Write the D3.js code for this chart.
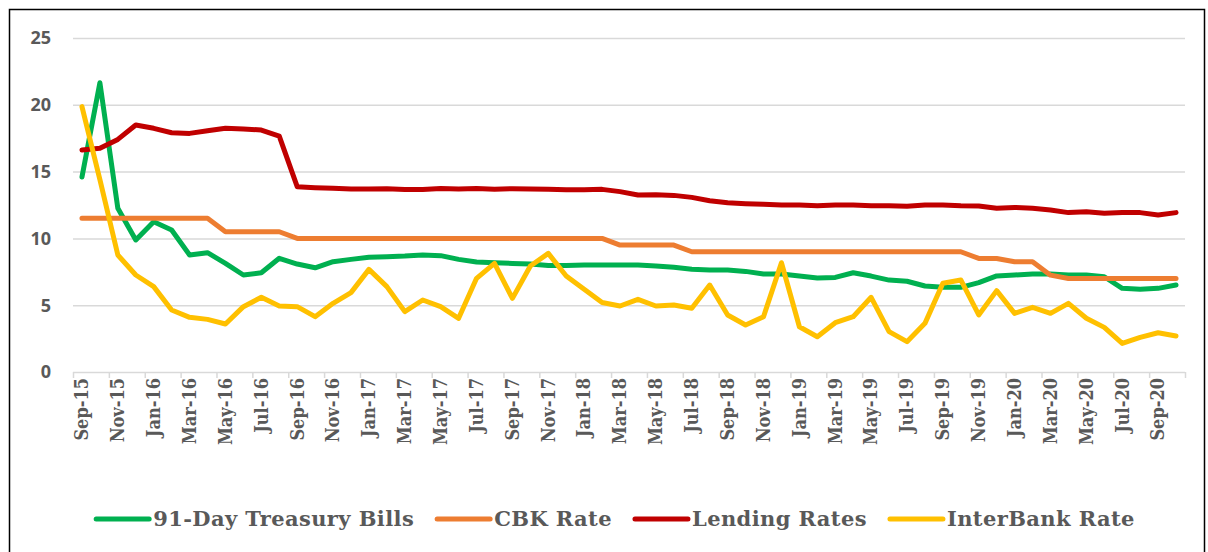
<!DOCTYPE html>
<html>
<head>
<meta charset="utf-8">
<script src="https://cdn.jsdelivr.net/npm/d3@7"></script>
<style>
  body { margin: 0; background: #fff; }
  svg { display: block; }
  .ylab text { font-family: "Open Sans", "DejaVu Sans", sans-serif; font-weight: 700; font-size: 18px; fill: #595959; }
  .xlab text { font-family: "DejaVu Serif Condensed", "DejaVu Serif", serif; font-stretch: condensed; font-weight: 700; font-size: 18px; fill: #595959; }
  .legend text { font-family: "DejaVu Serif", serif; font-weight: 700; font-size: 21px; letter-spacing: 0.4px; fill: #595959; }
</style>
</head>
<body>
<svg width="1208" height="552"></svg>
<script>
(function () {

  // months Sep-15 .. Oct-20
  const months = [
    "Sep-15","Oct-15","Nov-15","Dec-15","Jan-16","Feb-16","Mar-16","Apr-16","May-16","Jun-16","Jul-16","Aug-16",
    "Sep-16","Oct-16","Nov-16","Dec-16","Jan-17","Feb-17","Mar-17","Apr-17","May-17","Jun-17","Jul-17","Aug-17",
    "Sep-17","Oct-17","Nov-17","Dec-17","Jan-18","Feb-18","Mar-18","Apr-18","May-18","Jun-18","Jul-18","Aug-18",
    "Sep-18","Oct-18","Nov-18","Dec-18","Jan-19","Feb-19","Mar-19","Apr-19","May-19","Jun-19","Jul-19","Aug-19",
    "Sep-19","Oct-19","Nov-19","Dec-19","Jan-20","Feb-20","Mar-20","Apr-20","May-20","Jun-20","Jul-20","Aug-20",
    "Sep-20","Oct-20"
  ];

  const tbill = [14.6, 21.65, 12.25, 9.88, 11.25, 10.63, 8.76, 8.93, 8.13, 7.26, 7.43, 8.51,
    8.08, 7.8, 8.26, 8.43, 8.59, 8.63, 8.68, 8.76, 8.71, 8.43, 8.23, 8.18,
    8.13, 8.08, 7.98, 7.98, 8.0, 8.0, 8.0, 8.0, 7.94, 7.84, 7.69, 7.64,
    7.64, 7.53, 7.33, 7.33, 7.18, 7.03, 7.08, 7.43, 7.18, 6.88, 6.79, 6.44,
    6.34, 6.34, 6.69, 7.19, 7.26, 7.33, 7.33, 7.26, 7.26, 7.13, 6.26, 6.19,
    6.26, 6.51];

  const cbk = [11.5, 11.5, 11.5, 11.5, 11.5, 11.5, 11.5, 11.5, 10.5, 10.5, 10.5, 10.5,
    10, 10, 10, 10, 10, 10, 10, 10, 10, 10, 10, 10,
    10, 10, 10, 10, 10, 10, 9.5, 9.5, 9.5, 9.5, 9, 9,
    9, 9, 9, 9, 9, 9, 9, 9, 9, 9, 9, 9,
    9, 9, 8.5, 8.5, 8.25, 8.25, 7.25, 7, 7, 7, 7, 7,
    7, 7];

  const lending = [16.62, 16.74, 17.41, 18.49, 18.24, 17.91, 17.86, 18.06, 18.24, 18.19, 18.11, 17.66,
    13.87, 13.8, 13.75, 13.7, 13.7, 13.72, 13.66, 13.66, 13.73, 13.7, 13.73, 13.68,
    13.72, 13.7, 13.68, 13.64, 13.64, 13.67, 13.5, 13.25, 13.27, 13.22, 13.07, 12.82,
    12.67, 12.6, 12.55, 12.5, 12.5, 12.45, 12.5, 12.5, 12.45, 12.45, 12.4, 12.5,
    12.5, 12.45, 12.43, 12.25, 12.32, 12.25, 12.13, 11.93, 12.0, 11.88, 11.93, 11.93,
    11.75, 11.93];

  const interbank = [19.86, 14.4, 8.76, 7.26, 6.39, 4.64, 4.09, 3.94, 3.59, 4.89, 5.59, 4.94,
    4.89, 4.14, 5.14, 5.94, 7.68, 6.39, 4.52, 5.39, 4.89, 4.02, 7.01, 8.13,
    5.51, 7.93, 8.88, 7.19, 6.19, 5.2, 4.94, 5.44, 4.94, 5.02, 4.77, 6.51,
    4.27, 3.52, 4.14, 8.18, 3.39, 2.64, 3.69, 4.14, 5.59, 3.02, 2.27, 3.64,
    6.64, 6.89, 4.27, 6.09, 4.39, 4.84, 4.39, 5.14, 4.02, 3.34, 2.14, 2.59,
    2.94, 2.69];

  const yTicks = [0, 5, 10, 15, 20, 25];

  const series = [
    { name: "91-Day Treasury Bills", values: tbill, color: "#00b050" },
    { name: "CBK Rate", values: cbk, color: "#ed7d31" },
    { name: "Lending Rates", values: lending, color: "#c00000" },
    { name: "InterBank Rate", values: interbank, color: "#ffc000" }
  ];

  const left = 73, right = 1185, top = 38, bottom = 372;

  const svg = d3.select("svg");

  // outer frame
  svg.append("rect")
    .attr("x", 9.5).attr("y", 9.5)
    .attr("width", 1195).attr("height", 560)
    .attr("fill", "none").attr("stroke", "#000").attr("stroke-width", 1.5);

  const xBand = d3.scaleBand().domain(months).range([left, right]).padding(0);
  const x = d3.scalePoint().domain(months).range([left, right]).padding(0.5);
  const y = d3.scaleLinear().domain([0, 25]).range([bottom, top]);

  // gridlines
  svg.append("g")
    .selectAll("line")
    .data(yTicks.filter(d => d > 0))
    .enter()
    .append("line")
    .attr("x1", left).attr("x2", right)
    .attr("y1", d => y(d) + 0.5).attr("y2", d => y(d) + 0.5)
    .attr("stroke", "#d9d9d9").attr("stroke-width", 1.5);

  // y labels
  svg.append("g").classed("ylab", true)
    .selectAll("text")
    .data(yTicks)
    .enter()
    .append("text")
    .attr("x", 51)
    .attr("y", d => y(d))
    .attr("dy", "0.35em")
    .attr("text-anchor", "end")
    .text(d => d);

  // x axis line + boundary ticks every 2 months
  svg.append("line")
    .attr("x1", left).attr("x2", right)
    .attr("y1", bottom + 0.5).attr("y2", bottom + 0.5)
    .attr("stroke", "#d9d9d9").attr("stroke-width", 1.5);

  const tickPos = months.filter((m, i) => i % 2 === 0).map(m => xBand(m)).concat([right]);
  svg.append("g")
    .selectAll("line")
    .data(tickPos)
    .enter()
    .append("line")
    .attr("x1", d => d + 0.5).attr("x2", d => d + 0.5)
    .attr("y1", bottom).attr("y2", bottom + 6)
    .attr("stroke", "#d9d9d9").attr("stroke-width", 1.5);

  // x labels (every other month)
  svg.append("g").classed("xlab", true)
    .selectAll("text")
    .data(months.filter((m, i) => i % 2 === 0))
    .enter()
    .append("text")
    .attr("transform", d => `translate(${x(d)},${bottom + 6}) rotate(-90)`)
    .attr("dy", "0.35em")
    .attr("text-anchor", "end")
    .text(d => d);

  // lines
  const line = d3.line()
    .x((d, i) => x(months[i]))
    .y(d => y(d));

  svg.append("g")
    .selectAll("path")
    .data(series)
    .enter()
    .append("path")
    .attr("d", d => line(d.values))
    .attr("fill", "none")
    .attr("stroke", d => d.color)
    .attr("stroke-width", 5)
    .attr("stroke-linejoin", "round")
    .attr("stroke-linecap", "round");

  // legend, centred under the plot
  const legend = svg.append("g").classed("legend", true);
  const items = legend.selectAll("g")
    .data(series)
    .enter()
    .append("g");

  items.append("line")
    .attr("x1", 2).attr("x2", 55)
    .attr("y1", 519).attr("y2", 519)
    .attr("stroke", d => d.color)
    .attr("stroke-width", 5)
    .attr("stroke-linecap", "round");

  items.append("text")
    .attr("x", 59)
    .attr("y", 526)
    .text(d => d.name);

  const widths = [];
  items.each(function () {
    widths.push(59 + d3.select(this).select("text").node().getComputedTextLength());
  });
  const gap = 21;
  const total = d3.sum(widths) + gap * (widths.length - 1);
  let offset = 614.5 - total / 2;
  items.attr("transform", (d, i) => {
    const tx = offset;
    offset += widths[i] + gap;
    return `translate(${tx},0)`;
  });
})();
</script>
</body>
</html>
